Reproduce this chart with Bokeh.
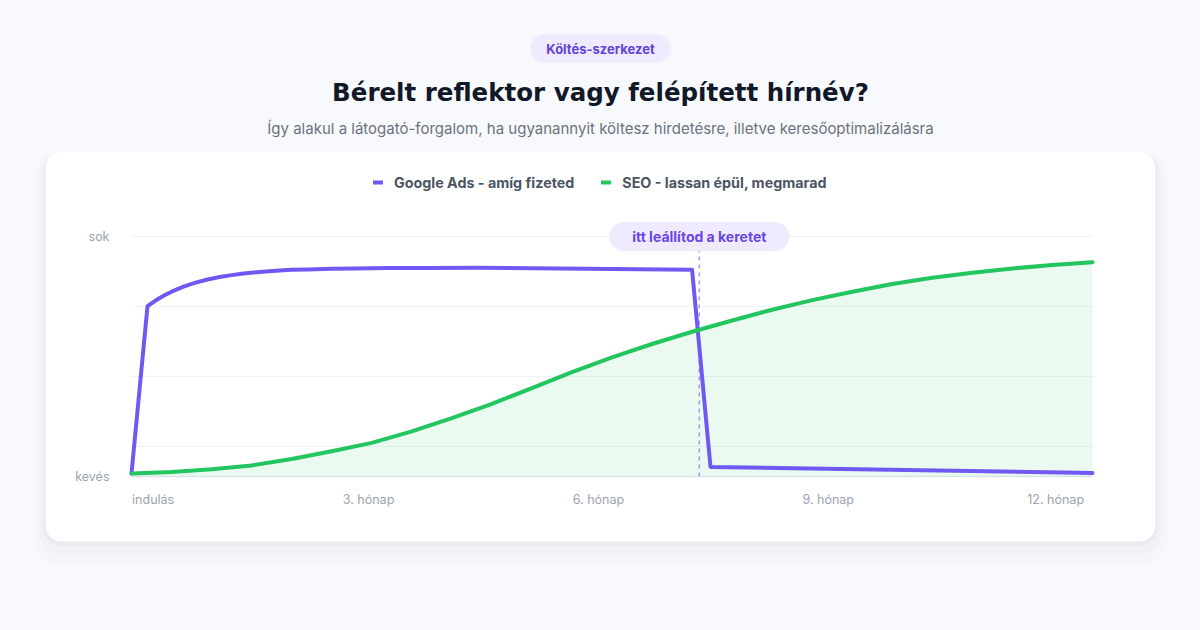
from bokeh.plotting import figure
from bokeh.models import Range1d, FixedTicker, Label, BoxAnnotation, Legend, LegendItem
from bokeh.embed import file_html
from bokeh.resources import INLINE

# ---------------- data ----------------
months_ads = [0, 0.2, 0.3, 0.4, 0.5, 0.65, 0.8, 0.95, 1.1, 1.25, 1.4, 1.6, 1.8, 2.0, 2.2, 2.5, 2.8,
              3.2, 3.7, 4.3, 5.0, 6.0, 7.0, 7.23, 12]
ads_traffic = [1.2, 71.0, 73.3, 75.3, 77.0, 79.1, 80.8, 82.1, 83.1, 83.9, 84.6, 85.2, 85.7, 86.1, 86.3,
               86.6, 86.7, 86.9, 86.9, 87.0, 86.8, 86.5, 86.1, 4.0, 1.5]

months_seo = [0, 0.5, 1, 1.5, 2, 2.5, 3, 3.5, 4, 4.5, 5, 5.5, 6, 6.5, 7, 7.5, 8, 8.5, 9, 9.5, 10, 10.5, 11, 11.5, 12]
seo_traffic = [1.2, 1.9, 3.0, 4.6, 7.3, 10.5, 14.0, 18.8, 24.3, 30.3, 36.8, 43.5, 49.6, 55.2, 60.3, 65.0,
               69.5, 73.5, 77.0, 80.2, 82.8, 84.9, 86.7, 88.1, 89.3]

stop_month = 7.09
stop_label = "itt leállítod a keretet"

series_names = ["Google Ads - amíg fizeted", "SEO - lassan épül, megmarad"]

x_tick_labels = ["indulás", "3. hónap", "6. hónap", "9. hónap", "12. hónap"]
x_tick_pos = [0.27, 2.96, 5.83, 8.70, 11.54]
y_tick_values = [0, 100]
y_tick_labels = ["kevés", "sok"]
grid_levels = [12.5, 41.67, 70.83, 100]
month_span = [0, 12]

badge_text = "Költés-szerkezet"
title_text = "Bérelt reflektor vagy felépített hírnév?"
subtitle_text = "Így alakul a látogató-forgalom, ha ugyanannyit költesz hirdetésre, illetve keresőoptimalizálásra"

# ---------------- style ----------------
PURPLE = "#7059f3"
GREEN = "#22c55e"
PAGE_BG = "#f8f9fc"
AXIS_TXT = "#9ca3af"
FONT = "Inter"
W, H = 1200, 630

# page pixel -> data helpers (x 0..12 at px 131..1092, y 0..100 at px 476..236)
def px2x(px):
    return (px - 131) / (961 / 12)

def px2y(py):
    return (476 - py) / 2.4

p = figure(width=W, height=H,
           x_range=Range1d(px2x(0), px2x(W)),
           y_range=Range1d(px2y(H), px2y(0)),
           output_backend="svg", toolbar_location=None,
           min_border=0, min_border_left=0, min_border_right=0, min_border_top=0, min_border_bottom=0,
           background_fill_color=PAGE_BG, border_fill_color=PAGE_BG, outline_line_color=None)
p.title.visible = False

# card with soft shadow
for grow, shift, alpha, rad in [(12, 12, 0.012, 28), (6, 7, 0.02, 22), (2, 3, 0.03, 18)]:
    p.add_layout(BoxAnnotation(left=px2x(45 - grow), right=px2x(1155 + grow),
                               top=px2y(151 - grow + shift), bottom=px2y(541 + grow + shift),
                               fill_color="#1e293b", fill_alpha=alpha, line_color=None,
                               border_radius=rad, level="image"))
p.add_layout(BoxAnnotation(left=px2x(45), right=px2x(1155), top=px2y(151), bottom=px2y(541),
                           fill_color="white", fill_alpha=1, line_color="#e9ecf1", line_width=1,
                           border_radius=16, level="image"))

# axes drawn at the data origin
p.xaxis.fixed_location = 0
p.yaxis.fixed_location = 0
p.xaxis.ticker = FixedTicker(ticks=x_tick_pos)
p.xaxis.major_label_overrides = dict(zip(x_tick_pos, x_tick_labels))
p.yaxis.ticker = FixedTicker(ticks=y_tick_values)
p.yaxis.major_label_overrides = dict(zip(y_tick_values, y_tick_labels))
for ax in (p.xaxis, p.yaxis):
    ax.axis_line_color = None
    ax.major_tick_line_color = None
    ax.minor_tick_line_color = None
    ax.major_label_text_font = FONT
    ax.major_label_text_font_size = "12.5px"
    ax.major_label_text_color = AXIS_TXT
p.xaxis.major_label_standoff = 9
p.yaxis.major_label_standoff = 16
p.xgrid.visible = False
p.ygrid.visible = False

# horizontal grid lines over the month span, baseline, stop marker
p.segment(x0=month_span[0], x1=month_span[1], y0=grid_levels, y1=grid_levels,
          line_color="#f0f2f5", line_width=1)
p.segment(x0=month_span[0], x1=month_span[1], y0=0, y1=0, line_color="#e2e5eb", line_width=1.5)
p.segment(x0=stop_month, x1=stop_month, y0=0, y1=100, line_color="#a89cf4", line_width=1.5,
          line_dash="4 4")

# series
p.varea(x=months_seo, y1=0, y2=seo_traffic, fill_color=GREEN, fill_alpha=0.09)
ads_line = p.line(months_ads, ads_traffic, line_color=PURPLE, line_width=4, line_cap="round", line_join="round")
seo_line = p.line(months_seo, seo_traffic, line_color=GREEN, line_width=4, line_cap="round", line_join="round")

legend = Legend(items=[LegendItem(label=series_names[0], renderers=[ads_line]),
                       LegendItem(label=series_names[1], renderers=[seo_line])],
                orientation="horizontal", location=(373, H - 192),
                background_fill_alpha=0, border_line_color=None, padding=0, margin=0,
                spacing=27, label_standoff=11, glyph_width=10, glyph_height=20, label_height=20,
                label_text_font=FONT, label_text_font_style="bold", label_text_font_size="14.3px",
                label_text_color="#4b5563")
p.add_layout(legend)

# stop annotation pill
p.add_layout(Label(x=stop_month, y=100, text=stop_label, text_align="center", text_baseline="middle",
                   text_font=FONT, text_font_style="bold", text_font_size="14px", text_color="#6b46e5",
                   background_fill_color="#efeafe", border_radius=15, padding=(23, 6)))

# header texts
p.add_layout(Label(x=px2x(600), y=px2y(48), text=badge_text, text_align="center", text_baseline="middle",
                   text_font=FONT, text_font_style="bold", text_font_size="13px", text_color="#6443da",
                   background_fill_color="#efeafe", border_radius=14, padding=(16, 6)))
p.add_layout(Label(x=px2x(600), y=px2y(92), text=title_text, text_align="center", text_baseline="middle",
                   text_font="DejaVu Sans", text_font_style="bold", text_font_size="24.5px", text_color="#111827"))
p.add_layout(Label(x=px2x(600), y=px2y(128), text=subtitle_text, text_align="center", text_baseline="middle",
                   text_font=FONT, text_font_size="15px", text_color="#6b7280"))

html = file_html(p, INLINE, title="Bérelt reflektor vagy felépített hírnév?")
html = html.replace("<body>", '<body style="background:%s;">' % PAGE_BG, 1)
with open("out.html", "w", encoding="utf-8") as f:
    f.write(html)
